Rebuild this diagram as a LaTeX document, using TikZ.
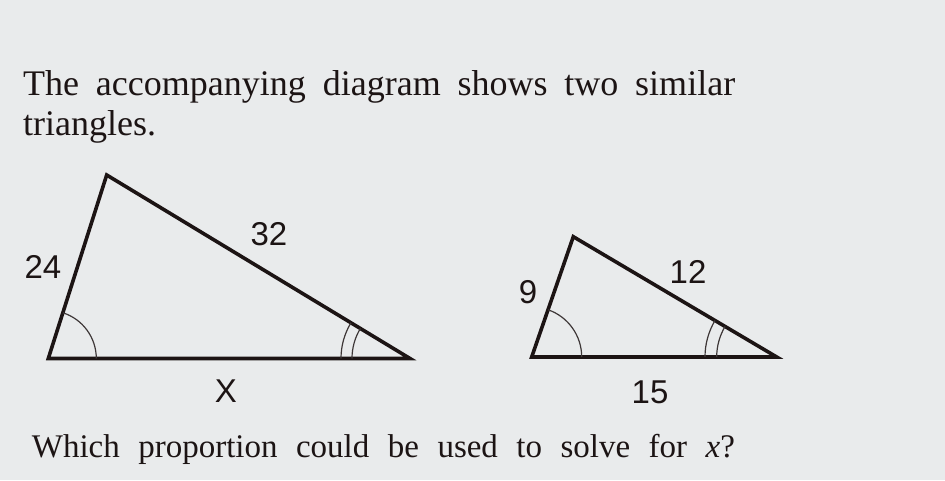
\documentclass[tikz,border=0pt]{standalone}
\usepackage{fontspec}
\setmainfont{Liberation Serif}
\newfontfamily\labelfont{Liberation Sans}
\definecolor{bg}{RGB}{233,235,236}
\definecolor{ink}{RGB}{28,20,20}
\tikzset{
  side/.style={draw=ink, line width=3.6pt, line join=miter},
  anglearc/.style={draw=ink!85, line width=1.2pt},
  lab/.style={text=ink, inner sep=0pt, font=\labelfont\fontsize{33}{33}\selectfont},
  prose/.style={text=ink, inner sep=0pt, anchor=base west}
}
\begin{document}
\begin{tikzpicture}[x=1pt,y=1pt]
\fill[bg] (0,0) rectangle (945,480);
\useasboundingbox (0,0) rectangle (945,480);
% text
\node[prose, font=\fontsize{36}{40}\selectfont] (t1) at (23,384) {\makebox[712pt][s]{The accompanying diagram shows two similar}};
\node[prose, font=\fontsize{36}{40}\selectfont] (t2) at (23,344) {triangles.};
\node[prose, font=\fontsize{33}{36}\selectfont] (t3) at (31.7,23) {\makebox[703pt][s]{Which proportion could be used to solve for \textit{x}?}};
% big triangle
\coordinate (L1) at (48.3,121.5);
\coordinate (T1) at (106.7,305);
\coordinate (R1) at (410,121.5);
\draw[side] (L1) -- (T1) -- (R1) -- cycle;
\draw[anglearc] ([shift={(48,0)}]L1) arc[start angle=0, end angle=72.35, radius=48];
\draw[anglearc] ([shift={(-58,0)}]R1) arc[start angle=180, end angle=148.8, radius=58];
\draw[anglearc] ([shift={(-69,0)}]R1) arc[start angle=180, end angle=148.8, radius=69];
% small triangle
\coordinate (L2) at (531.7,123);
\coordinate (T2) at (573.3,243.3);
\coordinate (R2) at (776.7,123);
\draw[side] (L2) -- (T2) -- (R2) -- cycle;
\draw[anglearc] ([shift={(50,0)}]L2) arc[start angle=0, end angle=70.9, radius=50];
\draw[anglearc] ([shift={(-60,0)}]R2) arc[start angle=180, end angle=149.4, radius=60];
\draw[anglearc] ([shift={(-71.7,0)}]R2) arc[start angle=180, end angle=149.4, radius=71.7];
% labels
\node[lab] (a24) at (43,213) {24};
\node[lab] (a32) at (269,246) {32};
\node[lab] (ax) at (226,88.5) {X};
\node[lab] (a9) at (528,187.5) {9};
\node[lab] (a12) at (688,208) {12};
\node[lab] (a15) at (650,88) {15};
\end{tikzpicture}
\end{document}
